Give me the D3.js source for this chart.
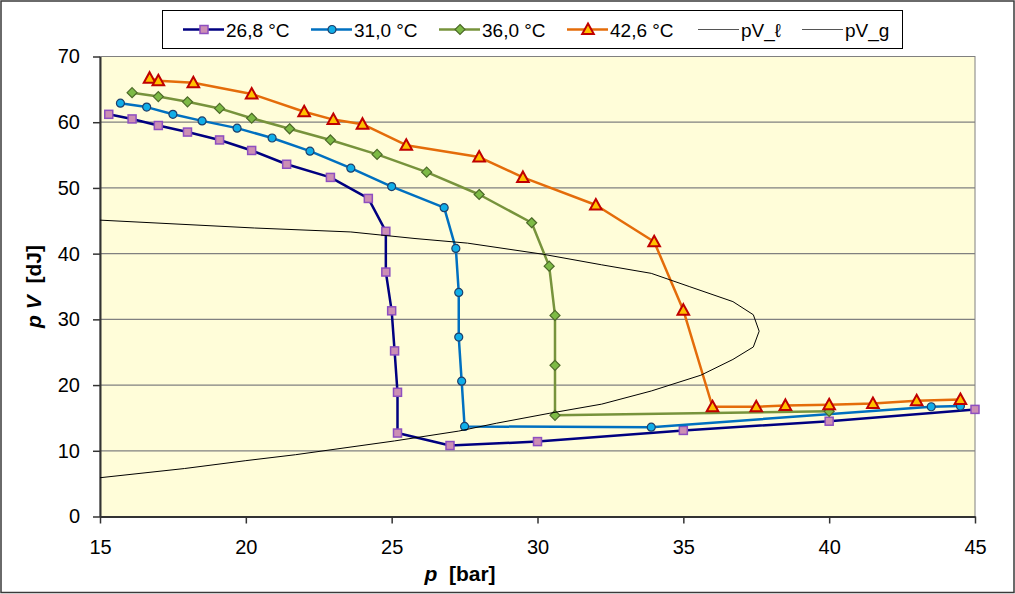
<!DOCTYPE html>
<meta charset="utf-8">
<script src="https://d3js.org/d3.v7.min.js"></script>
<style>
  body { margin: 0; background: #fff; }
  text { font-family: "Liberation Sans", Arial, sans-serif; }
</style>
<div id="chart"></div>
<script>
// isotherms, p [bar] vs pV [dJ]
var p268  = [15.3,16.1,17.0,18.0,19.1,20.2,21.4,22.9,24.2,24.8,24.8,25.0,25.1,25.2,25.2,27.0,30.0,35.0,40.0,45.0];
var pv268 = [61.2,60.5,59.5,58.5,57.3,55.7,53.6,51.6,48.4,43.4,37.2,31.3,25.2,18.9,12.7,10.8,11.4,13.1,14.5,16.3];

var p310  = [15.7,16.6,17.5,18.5,19.7,20.9,22.2,23.6,25.0,26.8,27.2,27.3,27.3,27.4,27.5,33.9,43.5,44.5];
var pv310 = [62.9,62.3,61.2,60.2,59.1,57.6,55.6,53.0,50.2,47.0,40.8,34.1,27.3,20.6,13.7,13.6,16.7,16.8];

var p360  = [16.1,17.0,18.0,19.1,20.2,21.5,22.9,24.5,26.2,28.0,29.8,30.4,30.6,30.6,30.6,40.0];
var pv360 = [64.5,63.9,63.1,62.1,60.6,59.0,57.3,55.1,52.4,49.0,44.7,38.1,30.6,23.0,15.4,16.0];

var p426  = [16.7,17.0,18.2,20.2,22.0,23.0,24.0,25.5,28.0,29.5,32.0,34.0,35.0,36.0,37.5,38.5,40.0,41.5,43.0,44.5];
var pv426 = [66.7,66.3,66.0,64.3,61.6,60.4,59.7,56.5,54.7,51.6,47.4,41.8,31.4,16.7,16.7,16.9,17.0,17.2,17.6,17.8];

// coexistence curve
var pLiq  = [15.0,17.9,20.0,21.7,25.1,27.3,28.6,30.4,32.2,33.9,35.6,36.7,37.4,37.6];
var pvLiq = [5.9,7.3,8.5,9.4,11.5,13.0,14.2,15.7,17.1,19.1,21.5,23.9,25.8,28.2];
var pGas  = [15.0,20.3,23.6,25.8,27.6,30.2,32.2,33.9,35.2,36.7,37.4,37.6];
var pvGas = [45.1,43.9,43.3,42.3,41.6,39.9,38.3,37.0,35.0,32.7,30.7,28.2];

var xTicks = [15,20,25,30,35,40,45];
var yTicks = [0,10,20,30,40,50,60,70];
var legendLabels = ["26,8 °C","31,0 °C","36,0 °C","42,6 °C","pV_ℓ","pV_g"];

var W = 1015, H = 594;
var plot = {left: 100, right: 975, top: 56.5, bottom: 516.5};

var svg = d3.select("#chart").append("svg")
  .attr("width", W).attr("height", H);

// outer frame
svg.append("rect").attr("x", 1).attr("y", 1).attr("width", W - 2).attr("height", H - 2.5)
  .attr("fill", "#fff").attr("stroke", "#3a3a3a").attr("stroke-width", 1.5);

var x = d3.scaleLinear().domain([15, 45]).range([plot.left, plot.right]);
var y = d3.scaleLinear().domain([0, 70]).range([plot.bottom, plot.top]);

svg.append("rect")
  .attr("x", plot.left).attr("y", plot.top)
  .attr("width", plot.right - plot.left).attr("height", plot.bottom - plot.top)
  .attr("fill", "#FFFDD9").attr("stroke", "#808080").attr("stroke-width", 1);

// gridlines
svg.append("g").selectAll("line").data(yTicks.slice(1)).join("line")
  .attr("x1", plot.left).attr("x2", plot.right)
  .attr("y1", d => y(d)).attr("y2", d => y(d))
  .attr("stroke", "#808080").attr("stroke-width", 1.2);

// axes
var xAxis = svg.append("g").attr("transform", `translate(0,${plot.bottom})`)
  .call(d3.axisBottom(x).tickValues(xTicks).tickSize(7).tickSizeOuter(0).tickPadding(16).tickFormat(d3.format("d")));
var yAxis = svg.append("g").attr("transform", `translate(${plot.left},0)`)
  .call(d3.axisLeft(y).tickValues(yTicks).tickSize(7).tickSizeOuter(0).tickPadding(13).tickFormat(d3.format("d")));
[xAxis, yAxis].forEach(function(a) {
  a.select(".domain").attr("stroke", "#333").attr("stroke-width", 2);
  a.selectAll(".tick line").attr("stroke", "#333").attr("stroke-width", 1.5);
  a.selectAll(".tick text").attr("font-size", 20).attr("fill", "#000")
    .attr("font-family", '"Liberation Sans", Arial, sans-serif');
});

// axis titles
var xt = svg.append("text").attr("x", 460).attr("y", 581).attr("text-anchor", "middle")
  .attr("font-size", 21).attr("font-weight", "bold").attr("xml:space", "preserve");
xt.append("tspan").attr("font-style", "italic").text("p");
xt.append("tspan").text("  [bar]");

var yt = svg.append("text").attr("transform", `translate(41,${(plot.top + plot.bottom) / 2}) rotate(-90)`)
  .attr("text-anchor", "middle").attr("font-size", 21).attr("font-weight", "bold").attr("xml:space", "preserve");
yt.append("tspan").attr("font-style", "italic").text("p V");
yt.append("tspan").text("  [dJ]");

// markers
function marker(sel, kind) {
  if (kind === "square") {
    sel.append("rect").attr("x", -4).attr("y", -4).attr("width", 8).attr("height", 8)
      .attr("fill", "#CC8FB4").attr("stroke", "#8E4FC0").attr("stroke-width", 1.5);
  } else if (kind === "circle") {
    sel.append("circle").attr("r", 4)
      .attr("fill", "#10AEE8").attr("stroke", "#1F3F6A").attr("stroke-width", 1.2);
  } else if (kind === "diamond") {
    sel.append("path").attr("d", "M0,-5L5,0L0,5L-5,0Z")
      .attr("fill", "#7DBA45").attr("stroke", "#4C6A28").attr("stroke-width", 1.2);
  } else if (kind === "triangle") {
    sel.append("path").attr("d", "M0,-6L5.8,4.5L-5.8,4.5Z")
      .attr("fill", "#FFC000").attr("stroke", "#C00000").attr("stroke-width", 2);
  }
}

var series = [
  {px: p268, py: pv268, color: "#000080", width: 2.5, kind: "square"},
  {px: p310, py: pv310, color: "#0070C0", width: 2.5, kind: "circle"},
  {px: p360, py: pv360, color: "#77933C", width: 2.5, kind: "diamond"},
  {px: p426, py: pv426, color: "#E46C0A", width: 2.5, kind: "triangle"},
  {px: pLiq, py: pvLiq, color: "#000", width: 1, kind: null},
  {px: pGas, py: pvGas, color: "#000", width: 1, kind: null}
];

var line = d3.line().x(d => x(d[0])).y(d => y(d[1]));

series.forEach(function(s) {
  var pts = s.px.map((v, i) => [v, s.py[i]]);
  svg.append("path").datum(pts).attr("d", line)
    .attr("fill", "none").attr("stroke", s.color).attr("stroke-width", s.width)
    .attr("stroke-linejoin", "round");
  if (s.kind) {
    svg.append("g").selectAll("g").data(pts).join("g")
      .attr("transform", d => `translate(${x(d[0])},${y(d[1])})`)
      .each(function() { marker(d3.select(this), s.kind); });
  }
});

// legend
svg.append("rect").attr("x", 162.5).attr("y", 10.5).attr("width", 740).attr("height", 38)
  .attr("fill", "#fff").attr("stroke", "#000").attr("stroke-width", 1);
var legX = [183, 311, 439, 567, 698, 802];
legendLabels.forEach(function(lab, i) {
  var s = series[i];
  var g = svg.append("g").attr("transform", `translate(${legX[i]},29.5)`);
  g.append("line").attr("x1", 0).attr("x2", 41).attr("stroke", s.color)
    .attr("stroke-width", s.kind ? 2.5 : 1).attr("stroke", s.kind ? s.color : "#555");
  if (s.kind) marker(g.append("g").attr("transform", "translate(21,0)"), s.kind);
  g.append("text").attr("x", 43).attr("y", 7.5).attr("font-size", 19).text(lab);
});
</script>
